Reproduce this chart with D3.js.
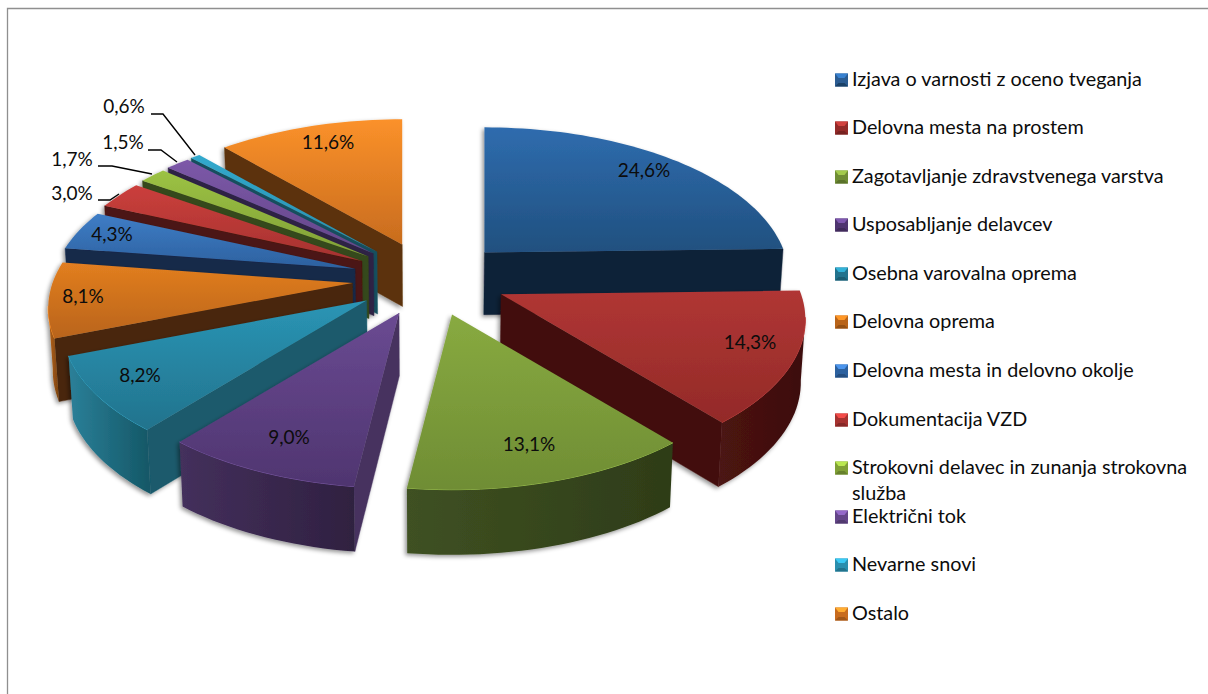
<!DOCTYPE html>
<html><head><meta charset="utf-8">
<script src="https://cdn.jsdelivr.net/npm/d3@7"></script>
<style>html,body{margin:0;padding:0;background:#fff}svg{display:block}text{font-family:Lato,"Open Sans",sans-serif;fill:#0c0c0c}</style>
</head><body><svg id="c" width="1208" height="694"></svg>
<script>
const categories=["Izjava o varnosti z oceno tveganja","Delovna mesta na prostem","Zagotavljanje zdravstvenega varstva","Usposabljanje delavcev","Osebna varovalna oprema","Delovna oprema","Delovna mesta in delovno okolje","Dokumentacija VZD","Strokovni delavec in zunanja strokovna služba","Električni tok","Nevarne snovi","Ostalo"];
const values=[24.6,14.3,13.1,9.0,8.2,8.1,4.3,3.0,1.7,1.5,0.6,11.6];
const valueLabels=["24,6%","14,3%","13,1%","9,0%","8,2%","8,1%","4,3%","3,0%","1,7%","1,5%","0,6%","11,6%"];

// styling and layout, separate from the data
const topLight=["#2f6cae","#b03634","#88aa40","#6a4a92","#2a95b5","#e27e20","#3f7dc6","#cb3f3c","#9cc244","#7c58a8","#31a9cd","#fb912a"];
const topDark =["#20507f","#932a28","#6f8d34","#4f3570","#22738d","#b9641a","#2c619f","#a63230","#80a036","#644689","#2a8fae","#c86c1e"];
const radialWall=["#0c2038","#431110","#33411a","#46325f","#1a5a6c","#49270b","#14294a","#4c1312","#36481a","#2e2145","#15505f","#5c320b"];
const outerA=["#0c2038","#4c1312","#3f5122","#44305c","#2b8099","#b9641a","#14294a","#4c1312","#36481a","#2e2145","#15505f","#5c320b"];
const outerB=["#0c2038","#3c0e0e","#2e3c18","#2f2040","#145766","#7a430f","#14294a","#4c1312","#36481a","#2e2145","#15505f","#5c320b"];
const legendFill=["#2b5c92","#932a28","#6f8d34","#4f3570","#22738d","#b9641a","#2c619f","#a63230","#80a036","#644689","#2a8fae","#c86c1e"];
const labelPos=[[644,171],[750,343],[529,445],[289,438],[140,376],[83,297],[112,235],[72,194],[72,160],[123,143],[124,107],[328,143]];
const leaders=[null,null,null,null,null,null,null,[[98,200],[110,200],[119,194]],[[98,166],[112,166],[152,174]],[[148,150],[161,150],[177,162]],[[151,114],[163,114],[195,155]],null];
const legendY=[80,128,177,225,274,322,371,420,468,517,565,614];

const svg=d3.select("#c");
const defs=svg.append("defs");
const shadow=defs.append("filter").attr("id","sh").attr("x","-10%").attr("y","-10%").attr("width","120%").attr("height","125%");
shadow.append("feDropShadow").attr("dx",-2).attr("dy",2).attr("stdDeviation",2.2).attr("flood-color","#000").attr("flood-opacity",.42);

function grad(id,a,b,horizontal){
  const g=defs.append("linearGradient").attr("id",id).attr("x1",0).attr("y1",0).attr("x2",horizontal?1:0).attr("y2",horizontal?0:1);
  g.append("stop").attr("offset",0).attr("stop-color",a);
  g.append("stop").attr("offset",1).attr("stop-color",b);
}
values.forEach((_,i)=>{grad("t"+i,topLight[i],topDark[i]);grad("o"+i,outerA[i],outerB[i],true);});

// frame
svg.append("path").attr("d","M7.5,694V8.5H1208").attr("fill","none").attr("stroke","#8f8f8f").attr("stroke-width",1.3);

// projection of the tilted pie
const cx=430,cy=279,explodeX=78,explodeY=37,persp=1/6;
const sx=d3.scaleLinear().domain([-1,1]).range([-300,300]);
const sy=d3.scaleLinear().domain([-1,1]).range([-146,146]);
function rim(a,tip){const X=Math.sin(a),Z=-Math.cos(a),s=1/(1-persp*Z);return [tip[0]+sx(X)*s,tip[1]+sy(Z)*s];}
function under(p){return [cx+(p[0]-cx)*0.988,p[1]+59+0.0125*p[1]];}
const line=d3.line();

const arcs=d3.pie().sort(null).value(d=>d)(values).map((d,i)=>{
  const mid=(d.startAngle+d.endAngle)/2;
  return {...d,i,mid,tip:[cx+explodeX*Math.sin(mid),cy-explodeY*Math.cos(mid)]};
});
const order=arcs.slice().sort((a,b)=>(-Math.cos(a.mid))-(-Math.cos(b.mid)));

order.forEach(d=>{
  const g=svg.append("g").attr("filter","url(#sh)");
  const n=Math.max(6,Math.ceil((d.endAngle-d.startAngle)/0.03));
  const pts=d3.range(n+1).map(k=>rim(d.startAngle+(d.endAngle-d.startAngle)*k/n,d.tip));
  const wall=(a,b,fill)=>g.append("path").attr("d",line([a,b,under(b),under(a)])+"Z").attr("fill",fill).attr("stroke",fill).attr("stroke-width",.4);
  const first=pts[0],last=pts[pts.length-1];
  if(first[0]-d.tip[0]<-4) wall(d.tip,first,radialWall[d.i]);
  if(d.tip[0]-last[0]<-4) wall(last,d.tip,radialWall[d.i]);
  // outer rim: only the part of the arc running right to left faces the viewer
  const vis=[];
  for(let k=0;k<pts.length-1;k++){ if(pts[k+1][0]<pts[k][0]) vis.push(k); }
  if(vis.length){
    const top=pts.slice(vis[0],vis[vis.length-1]+2);
    const poly=top.concat(top.slice().reverse().map(under));
    g.append("path").attr("d",line(poly)+"Z").attr("fill",`url(#o${d.i})`);
    g.append("path").attr("d",line(top)).attr("fill","none").attr("stroke",d3.color(topLight[d.i]).brighter(.35)).attr("stroke-width",1);
  }
  g.append("path").attr("d",line([d.tip,...pts])+"Z").attr("fill",`url(#t${d.i})`);
});

// data labels
svg.append("g").selectAll("text").data(valueLabels).join("text")
  .attr("x",(d,i)=>labelPos[i][0]).attr("y",(d,i)=>labelPos[i][1]+6)
  .attr("text-anchor","middle").attr("font-size",19).text(d=>d);
svg.append("g").selectAll("path").data(leaders.filter(Boolean)).join("path")
  .attr("d",d=>line(d)).attr("fill","none").attr("stroke","#000").attr("stroke-width",1.4);

// legend
const lg=svg.append("g").selectAll("g").data(categories).join("g")
  .attr("transform",(d,i)=>`translate(835,${legendY[i]})`);
lg.append("rect").attr("x",0).attr("y",-6.5).attr("width",13).attr("height",13).attr("fill",(d,i)=>legendFill[i]);
lg.append("path").attr("d",line([[0,-6.5],[13,-6.5],[9.5,-2],[3.5,-2]])+"Z").attr("fill",(d,i)=>d3.color(topLight[i]).brighter(.5));
lg.append("path").attr("d",line([[0,6.5],[13,6.5],[9.5,3],[3.5,3]])+"Z").attr("fill",(d,i)=>d3.color(topDark[i]).darker(.6));
lg.each(function(d,i){
  const t=d3.select(this).append("text").attr("font-size",19.8).attr("x",17).attr("y",6);
  if(d.length>40){
    const cut=d.lastIndexOf(" ");
    t.append("tspan").attr("x",17).text(d.slice(0,cut));
    t.append("tspan").attr("x",17).attr("dy",26).text(d.slice(cut+1));
  } else t.text(d);
});
</script></body></html>
